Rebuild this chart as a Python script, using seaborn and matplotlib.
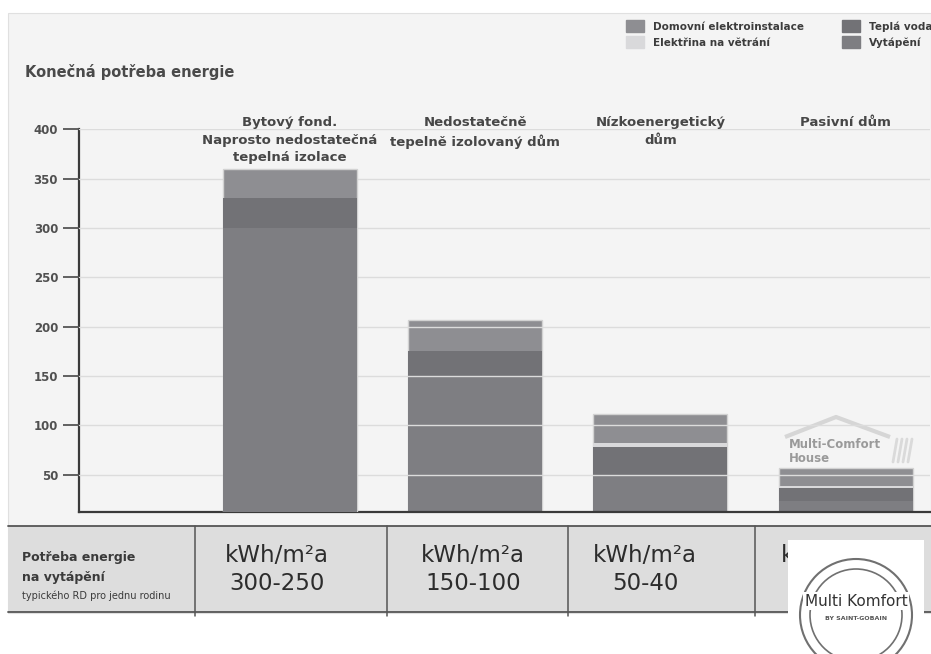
import numpy as np
import pandas as pd
import matplotlib.pyplot as plt
import matplotlib.patches as mpatches
import seaborn as sns

# values (kWh/m2a)
kategorie = ['Bytový fond.\nNaprosto nedostatečná\ntepelná izolace',
             'Nedostatečně\ntepelně izolovaný dům',
             'Nízkoenergetický\ndům',
             'Pasivní dům']
vytapeni = [300, 150, 50, 23]
tepla_voda = [30, 25, 28, 14]
vetrani = [0, 0, 4, 2]
elektro = [30, 32, 30, 18]

y_ticks = [50, 100, 150, 200, 250, 300, 350, 400]
potreba_vytapeni = ['300-250', '150-100', '50-40', '15']
legend_labels = ['Domovní elektroinstalace', 'Elektřina na větrání', 'Teplá voda', 'Vytápění']
barvy = ['#8e8e92', '#d9d9db', '#727276', '#7e7e82']

df = pd.DataFrame({'kategorie': kategorie, 'vytapeni': vytapeni, 'tepla_voda': tepla_voda,
                   'vetrani': vetrani, 'elektro': elektro})
df['do_vody'] = df['vytapeni'] + df['tepla_voda']
df['do_vetrani'] = df['do_vody'] + df['vetrani']
df['celkem'] = df['do_vetrani'] + df['elektro']

sns.set_style('white')
plt.rcParams['font.family'] = ['DejaVu Sans']

fig = plt.figure(figsize=(9.31, 6.54), dpi=100, facecolor='white')

# background layer in pixel coordinates (panel, table, logo)
bg = fig.add_axes([0, 0, 1, 1], zorder=-1)
bg.set_xlim(0, 931)
bg.set_ylim(654, 0)
bg.axis('off')
bg.add_patch(mpatches.Rectangle((8, 13), 923, 600, facecolor='#f4f4f4', edgecolor='#e0e0e0', lw=0.8))

# main chart
ax = fig.add_axes([79 / 931, 1 - 512.3 / 654, 851 / 931, 383 / 654])
ax.set_facecolor('none')

sloupce = ['celkem', 'do_vetrani', 'do_vody', 'vytapeni']
for i, (col, barva) in enumerate(zip(sloupce, barvy)):
    sns.barplot(data=df, x='kategorie', y=col, color=barva, saturation=1, width=0.723,
                errorbar=None, ax=ax, edgecolor='#d2d2d2' if i == 0 else barva,
                linewidth=1 if i == 0 else 0)

# first bar sits above the grid, others show grid lines through them
for p in ax.patches:
    if p.get_x() + p.get_width() / 2 < 0.5:
        p.set_zorder(3)

ax.set_ylim(12, 400)
ax.set_xlim(-1.136, 3.454)
ax.set_yticks(y_ticks)
ax.yaxis.grid(True, color='#dcdcdc', lw=1)
ax.set_axisbelow(False)
ax.set_xlabel('')
ax.set_ylabel('')
ax.tick_params(axis='x', bottom=False, labelbottom=False)
ax.tick_params(axis='y', left=True, length=11.5, width=1.3, color='#555555', pad=3.5,
               labelsize=8.5, labelcolor='#505050')
for lab in ax.get_yticklabels():
    lab.set_fontweight('bold')
sns.despine(ax=ax)
for s in ['left', 'bottom']:
    ax.spines[s].set_color('#3a3a3a')
    ax.spines[s].set_linewidth(1.6)

for i, k in enumerate(kategorie):
    ax.text(i, 413, k, ha='center', va='top', fontsize=9.5, fontweight='bold',
            color='#474747', linespacing=1.42, clip_on=False)

fig.text(25 / 931, 1 - 72 / 654, 'Konečná potřeba energie', fontsize=10.5, fontweight='bold',
         color='#4a4a4a', va='center')

handles = [mpatches.Patch(color=c) for c in barvy]
fig.legend(handles, legend_labels, ncol=2, loc='upper left', bbox_to_anchor=(626 / 931, 1 - 20 / 654),
           frameon=False, prop={'weight': 'bold', 'size': 7.5}, labelcolor='#3c3c3c',
           handlelength=1.75, handleheight=1.45, handletextpad=0.8, columnspacing=3.7,
           labelspacing=0.35, borderpad=0, borderaxespad=0)

# watermark above the passive house bar
bg.plot([785, 836, 890], [437, 417, 437], color='#d6d6d6', lw=3, solid_capstyle='butt')
for dx in [0, 5, 10, 15]:
    bg.plot([897 + dx, 893 + dx], [439, 462], color='#dadada', lw=2)
bg.text(789, 444, 'Multi-Comfort', fontsize=8.5, fontweight='bold', color='#9a9a9a', va='center')
bg.text(789, 458, 'House', fontsize=8.5, fontweight='bold', color='#9a9a9a', va='center')

# table under the chart
bg.add_patch(mpatches.Rectangle((8, 526), 923, 86, facecolor='#dddddd', edgecolor='none'))
bg.plot([8, 931], [526, 526], color='#555555', lw=1.3)
bg.plot([8, 931], [612, 612], color='#555555', lw=1.3)
for xv in [195, 387, 568, 755]:
    bg.plot([xv, xv], [526, 616], color='#555555', lw=1.1)
bg.text(22, 558, 'Potřeba energie', fontsize=9, fontweight='bold', color='#3a3a3a', va='center')
bg.text(22, 577, 'na vytápění', fontsize=9, fontweight='bold', color='#3a3a3a', va='center')
bg.text(22, 596, 'typického RD pro jednu rodinu', fontsize=7, color='#3a3a3a', va='center')
for xc, hodnota in zip([277, 473, 645, 833], potreba_vytapeni):
    bg.text(xc, 556, 'kWh/m²a', fontsize=16.5, color='#2c2c2c', ha='center', va='center')
    bg.text(xc, 583, hodnota, fontsize=16.5, color='#2c2c2c', ha='center', va='center')

# logo box
bg.add_patch(mpatches.Rectangle((788, 540), 136, 114, facecolor='white', edgecolor='none', zorder=5))
bg.add_patch(mpatches.Circle((856, 615), 56, facecolor='none', edgecolor='#707070', lw=1.5, zorder=6))
bg.add_patch(mpatches.Circle((856, 615), 46, facecolor='none', edgecolor='#707070', lw=1.2, zorder=6))
bg.text(856, 601, 'Multi Komfort', fontsize=11, color='#333333', ha='center', va='center', zorder=7,
        bbox=dict(facecolor='white', edgecolor='none', pad=1))
bg.text(856, 619, 'BY SAINT-GOBAIN', fontsize=4.5, fontweight='bold', color='#555555', ha='center',
        va='center', zorder=7)

fig.savefig('out.png', dpi=100, facecolor='white')
